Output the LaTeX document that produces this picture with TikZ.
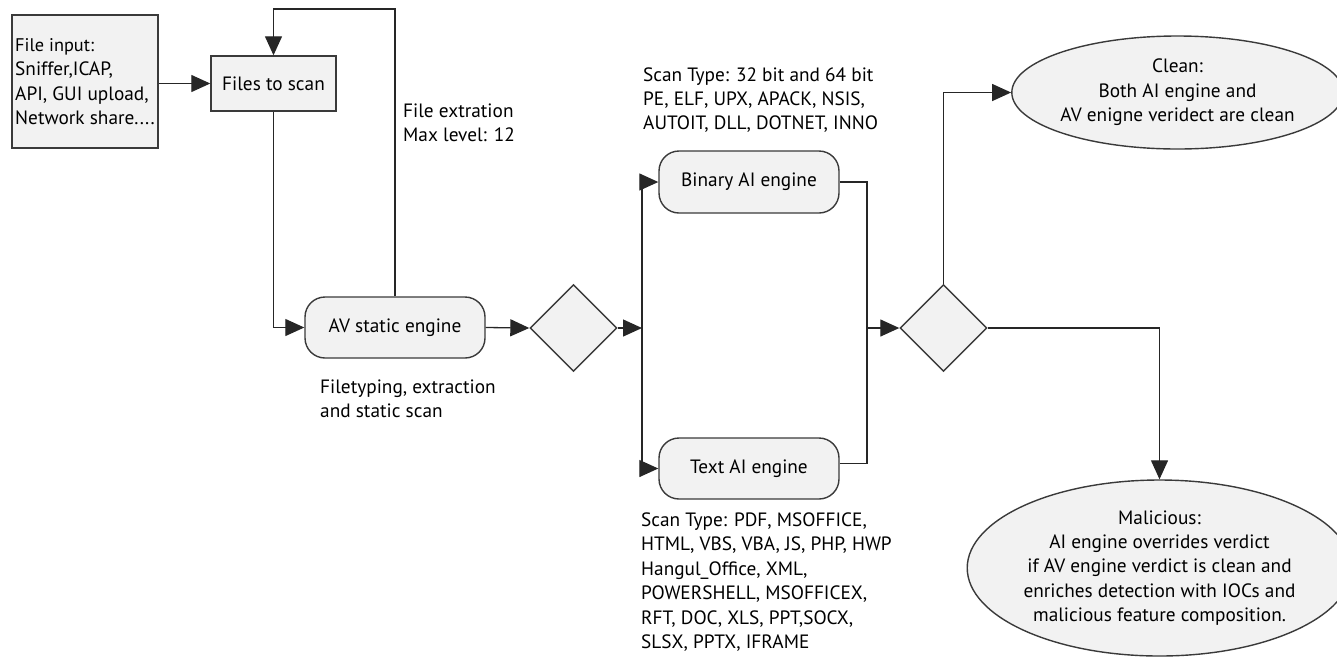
\documentclass[tikz,border=0pt]{standalone}
\usepackage{fontspec}
\setmainfont{PT Sans}
\usetikzlibrary{shapes.geometric,arrows.meta}
\definecolor{boxfill}{HTML}{F2F2F2}
\definecolor{edge}{HTML}{3A3A3A}
\tikzset{
  every node/.style={font=\fontsize{19.3}{24.4}\selectfont},
  sqbox/.style={draw=edge, fill=boxfill, line width=1.4pt, inner sep=0pt},
  rbox/.style={draw=edge, fill=boxfill, line width=1.4pt, rounded corners=20pt, minimum width=180pt, minimum height=61pt, inner sep=0pt},
  dia/.style={draw=edge, fill=boxfill, line width=1.4pt, diamond, minimum width=87pt, minimum height=87pt, inner sep=0pt},
  ell/.style={draw=edge, fill=boxfill, line width=1.4pt, ellipse, inner sep=0pt, align=center},
  conn/.style={draw=black!85, line width=1.3pt},
  arr/.style={conn, -{Triangle[length=19pt,width=17pt]}},
  lbl/.style={align=left, inner sep=0pt, anchor=west},
}
\begin{document}
\begin{tikzpicture}[x=1pt,y=-1pt]
\useasboundingbox (0,0) rectangle (1337,657);
% nodes
\node[sqbox, minimum width=146pt, minimum height=133pt, align=left] (fin) at (85,81.5) {\fontsize{18.3}{23.5}\selectfont File input:\\Sniffer,ICAP,\\API, GUI upload,\\Network share....};
\node[sqbox, minimum width=125pt, minimum height=55pt] (fts) at (273.5,83.5) {Files to scan};
\node[rbox] (av) at (395,327.5) {AV static engine};
\node[dia] (d1) at (573.5,328) {};
\node[rbox, minimum height=62pt] (bin) at (749,182) {Binary AI engine};
\node[rbox] (txt) at (749,468.5) {Text AI engine};
\node[dia] (d2) at (943.5,328) {};
\node[ell, minimum width=317pt, minimum height=113pt] (clean) at (1177.5,92.5) {\raisebox{-2pt}{\begin{tabular}{@{}c@{}}Clean:\\Both AI engine and\\AV enigne veridect are clean\end{tabular}}};
\node[ell, minimum width=343pt, minimum height=176pt] (mal) at (1159.5,568) {\raisebox{-4pt}{\begin{tabular}{@{}c@{}}Malicious:\\AI engine overrides verdict\\if AV engine verdict is clean and\\enriches detection with IOCs and\\malicious feature composition.\end{tabular}}};
% labels
\node[lbl] (lext) at (403,123) {File extration\\Max level: 12};
\node[lbl] (lft) at (320,399) {Filetyping, extraction\\and static scan};
\node[lbl] (lbin) at (643,100) {Scan Type: 32 bit and 64 bit\\PE, ELF, UPX, APACK, NSIS,\\AUTOIT, DLL, DOTNET, INNO};
\node[lbl] (ltxt) at (641,582) {Scan Type: PDF, MSOFFICE,\\HTML, VBS, VBA, JS, PHP, HWP\\Hangul\_Office, XML,\\POWERSHELL, MSOFFICEX,\\RFT, DOC, XLS, PPT,SOCX,\\SLSX, PPTX, IFRAME};
% coordinates
\coordinate (looptop) at (395,9);
\coordinate (split) at (642,328);
\coordinate (merge) at (867,328);
% connectors
\draw[arr] (fts.west -| fin.east) -- (fts.west);
\draw[arr] (fts.south) |- (av.west);
\draw[arr] (av.north) -- (av.north |- looptop) -| (fts.north);
\draw[arr] (av.east) -- (d1.west);
\draw[arr] (d1.east) -- (split);
\draw[arr] (split) |- (bin.west);
\draw[arr] (split) |- (txt.west);
\draw[conn] (bin.east) -| (merge);
\draw[conn] ([yshift=5pt]txt.east) -| (merge);
\draw[arr] (merge) -- (d2.west);
\draw[arr] (d2.north) |- (clean.west);
\draw[arr] (d2.east) -| (mal.north);
\end{tikzpicture}
\end{document}
